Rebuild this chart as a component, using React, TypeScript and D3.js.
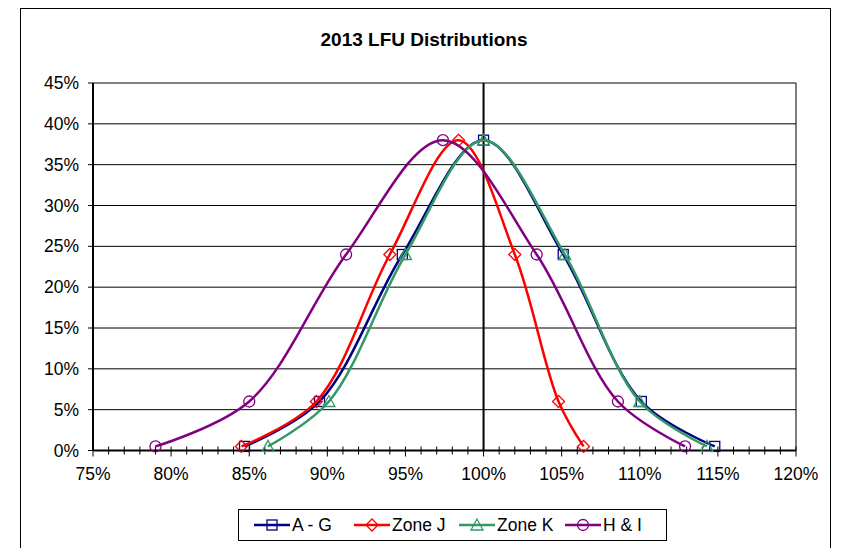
import React from "react";
import * as d3 from "d3";

const seriesNames = ["A - G", "Zone J", "Zone K", "H & I"];
const seriesColors = ["#000080", "#FF0000", "#339966", "#800080"];
const seriesMarkers = ["square", "diamond", "triangle", "circle"];
const xAG = [84.7, 89.5, 94.8, 100, 105.1, 110.1, 114.8];
const yAG = [0.5, 6, 24, 38, 24, 6, 0.5];
const xJ = [84.5, 89.3, 94.0, 98.4, 102.0, 104.8, 106.4];
const yJ = [0.5, 6, 24, 38, 24, 6, 0.5];
const xK = [86.2, 90.1, 95.0, 100, 105.2, 110.0, 114.3];
const yK = [0.5, 6, 24, 38, 24, 6, 0.5];
const xHI = [79.0, 85.0, 91.2, 97.4, 103.4, 108.6, 112.9];
const yHI = [0.5, 6, 24, 38, 24, 6, 0.5];
const xTicks = [75, 80, 85, 90, 95, 100, 105, 110, 115, 120];
const yTicks = [0, 5, 10, 15, 20, 25, 30, 35, 40, 45];
const title = "2013 LFU Distributions";

const W = 842;
const H = 548;
const M = { left: 93, right: 796, top: 83, bottom: 450.5 };
const FONT = "'Liberation Sans', Arial, sans-serif";

function Marker({ type, x, y, color }: { type: string; x: number; y: number; color: string }) {
  const s = 5;
  if (type === "square")
    return <rect x={x - s} y={y - s} width={2 * s} height={2 * s} fill="none" stroke={color} strokeWidth={1.3} />;
  if (type === "diamond")
    return (
      <path d={`M${x},${y - s - 1}L${x + s + 1},${y}L${x},${y + s + 1}L${x - s - 1},${y}Z`} fill="none" stroke={color} strokeWidth={1.3} />
    );
  if (type === "triangle")
    return <path d={`M${x},${y - s - 1}L${x + s + 1},${y + s}L${x - s - 1},${y + s}Z`} fill="none" stroke={color} strokeWidth={1.3} />;
  return <circle cx={x} cy={y} r={s + 0.5} fill="none" stroke={color} strokeWidth={1.3} />;
}

export default function App() {
  const x = d3.scaleLinear().domain([75, 120]).range([M.left, M.right]);
  const y = d3.scaleLinear().domain([0, 45]).range([M.bottom, M.top]);
  const data = [
    [xAG, yAG],
    [xJ, yJ],
    [xK, yK],
    [xHI, yHI],
  ];
  const line = d3
    .line<[number, number]>()
    .x((d) => x(d[0]))
    .y((d) => y(d[1]))
    .curve(d3.curveCatmullRom.alpha(0.5));
  const minor = d3.range(75, 121, 1);

  const legX = [254, 354, 459, 565];
  return (
    <svg width={W} height={H} style={{ position: "absolute", left: 0, top: 0 }} fontFamily={FONT}>
      <rect x={0} y={0} width={W} height={H} fill="#fff" />
      <rect x={20.5} y={8.5} width={810} height={560} fill="#fff" stroke="#000" strokeWidth={1} />
      <text x={424} y={46} textAnchor="middle" fontSize={19} fontWeight="bold">
        {title}
      </text>
      {yTicks.map((t) => (
        <g key={"y" + t}>
          <line x1={M.left - 5} x2={M.right} y1={y(t)} y2={y(t)} stroke="#000" strokeWidth={1} />
          <text x={79} y={y(t) + 6} textAnchor="end" fontSize={17.5}>
            {t}%
          </text>
        </g>
      ))}
      <line x1={M.right} x2={M.right} y1={M.top} y2={M.bottom} stroke="#000" strokeWidth={1} />
      <line x1={x(100)} x2={x(100)} y1={M.top} y2={M.bottom} stroke="#000" strokeWidth={2} />
      <line x1={M.left} x2={M.left} y1={M.top} y2={M.bottom} stroke="#000" strokeWidth={2} />
      <line x1={M.left} x2={M.right} y1={M.bottom} y2={M.bottom} stroke="#000" strokeWidth={2} />
      {minor.map((t) => (
        <line key={"m" + t} x1={x(t)} x2={x(t)} y1={M.bottom - 4} y2={M.bottom + (t % 5 === 0 ? 6 : 4)} stroke="#000" strokeWidth={1} />
      ))}
      {xTicks.map((t) => (
        <text key={"x" + t} x={x(t)} y={M.bottom + 29} textAnchor="middle" fontSize={17.5}>
          {t}%
        </text>
      ))}
      {data.map(([xs, ys], i) => {
        const pts = xs.map((v, j) => [v, ys[j]] as [number, number]);
        return (
          <g key={"s" + i}>
            <path d={line(pts) || ""} fill="none" stroke={seriesColors[i]} strokeWidth={2.5} />
            {pts.map((p, j) => (
              <Marker key={j} type={seriesMarkers[i]} x={x(p[0])} y={y(p[1])} color={seriesColors[i]} />
            ))}
          </g>
        );
      })}
      <rect x={238.5} y={509.5} width={428} height={31} fill="#fff" stroke="#000" strokeWidth={1} />
      {seriesNames.map((n, i) => (
        <g key={"l" + i}>
          <line x1={legX[i]} x2={legX[i] + 36} y1={525} y2={525} stroke={seriesColors[i]} strokeWidth={2.5} />
          <Marker type={seriesMarkers[i]} x={legX[i] + 18} y={525} color={seriesColors[i]} />
          <text x={legX[i] + 38} y={531} fontSize={17.5}>
            {n}
          </text>
        </g>
      ))}
    </svg>
  );
}
